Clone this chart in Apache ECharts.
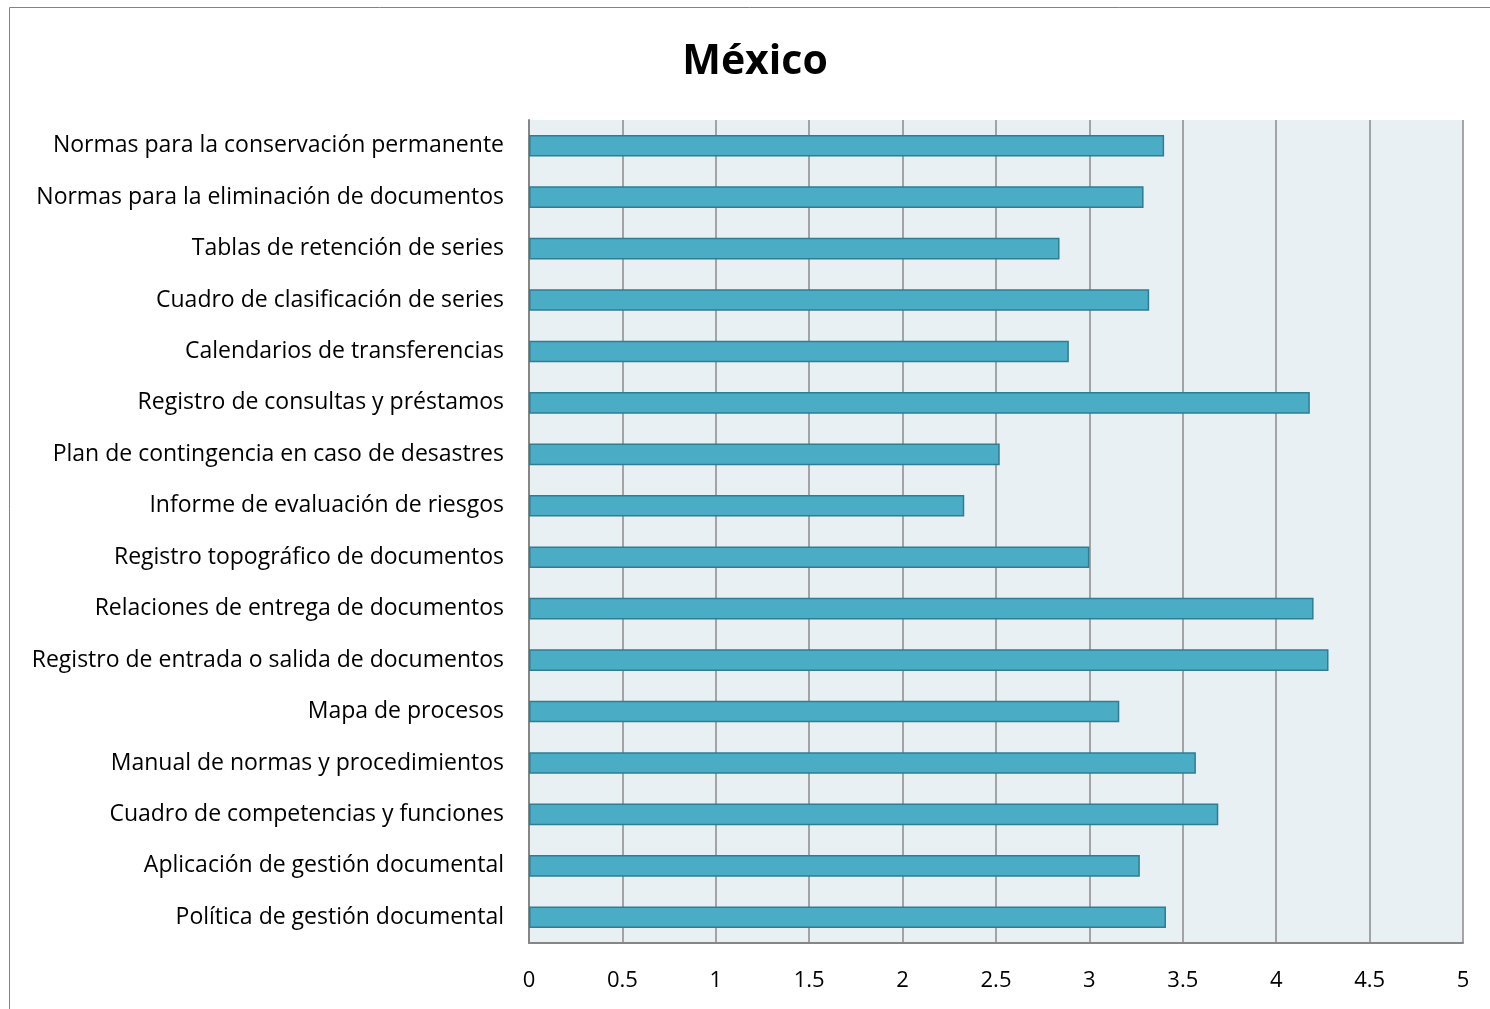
<!DOCTYPE html>
<html>
<head>
<meta charset="utf-8">
<script src="https://cdn.jsdelivr.net/npm/echarts@6/dist/echarts.min.js"></script>
<style>
html,body{margin:0;padding:0;background:#fff;}
#c{width:1490px;height:1009px;}
</style>
</head>
<body>
<div id="c"></div>
<script>
const categories = [
  "Política de gestión documental",
  "Aplicación de gestión documental",
  "Cuadro de competencias y funciones",
  "Manual de normas y procedimientos",
  "Mapa de procesos",
  "Registro de entrada o salida de documentos",
  "Relaciones de entrega de documentos",
  "Registro topográfico de documentos",
  "Informe de evaluación de riesgos",
  "Plan de contingencia en caso de desastres",
  "Registro de consultas y préstamos",
  "Calendarios de transferencias",
  "Cuadro de clasificación de series",
  "Tablas de retención de series",
  "Normas para la eliminación de documentos",
  "Normas para la conservación permanente"
];
const values = [3.41, 3.27, 3.69, 3.57, 3.16, 4.28, 4.20, 3.00, 2.33, 2.52, 4.18, 2.89, 3.32, 2.84, 3.29, 3.40];
const titleText = "México";

const chart = echarts.init(document.getElementById('c'));
const FONT = "'Open Sans', 'Noto Sans', sans-serif";
chart.setOption({
  animation: false,
  backgroundColor: '#fff',
  title: {
    text: titleText,
    left: 750, top: 37, textAlign: 'center',
    textStyle: {fontFamily: FONT, fontSize: 41, fontWeight: 'bold', color: '#000'}
  },
  graphic: [
    {type: 'line', shape: {x1: 9.5, y1: 7.5, x2: 1490, y2: 7.5}, style: {stroke: '#D86B1F', lineWidth: 1}},
    {type: 'line', shape: {x1: 9.5, y1: 7.5, x2: 9.5, y2: 1009}, style: {stroke: '#D86B1F', lineWidth: 1}}
  ],
  grid: {left: 529, right: 27, top: 120, bottom: 66, show: true, backgroundColor: '#E9F0F3', borderWidth: 0},
  xAxis: {
    type: 'value', min: 0, max: 5, interval: 0.5,
    axisLine: {show: true, lineStyle: {color: '#868686', width: 2}},
    axisTick: {show: false},
    splitLine: {show: true, lineStyle: {color: '#8a8a8a', width: 1.5}},
    axisLabel: {margin: 27, fontFamily: FONT, fontSize: 22, color: '#000'}
  },
  yAxis: {
    type: 'category', data: categories,
    axisLine: {show: true, lineStyle: {color: '#868686', width: 2}},
    axisTick: {show: false},
    axisLabel: {margin: 25, fontFamily: FONT, fontSize: 23, color: '#000'}
  },
  series: [{
    type: 'bar', data: values, barWidth: '42%',
    itemStyle: {color: '#4BACC6', borderColor: '#2E7D92', borderWidth: 1.5}
  }]
});
</script>
</body>
</html>
